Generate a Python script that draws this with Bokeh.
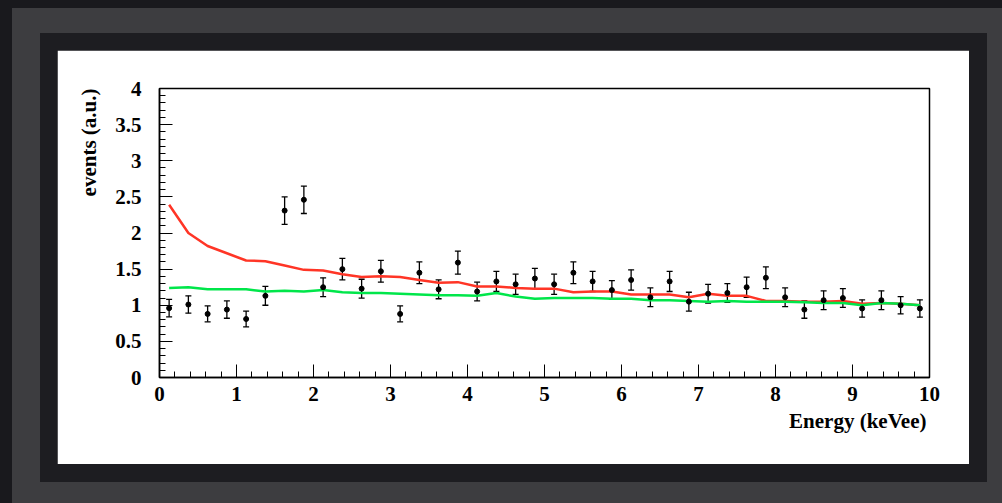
from bokeh.plotting import figure
from bokeh.layouts import column
from bokeh.models import (ColumnDataSource, FixedTicker, PrintfTickFormatter,
                          Title, Whisker, TeeHead)
from bokeh.embed import file_html
from bokeh.resources import INLINE

# ---- data ----
energy = [0.125, 0.375, 0.625, 0.875, 1.125, 1.375, 1.625, 1.875, 2.125, 2.375,
          2.625, 2.875, 3.125, 3.375, 3.625, 3.875, 4.125, 4.375, 4.625, 4.875,
          5.125, 5.375, 5.625, 5.875, 6.125, 6.375, 6.625, 6.875, 7.125, 7.375,
          7.625, 7.875, 8.125, 8.375, 8.625, 8.875, 9.125, 9.375, 9.625, 9.875]
events = [0.96, 1.01, 0.88, 0.94, 0.81, 1.13, 2.31, 2.46, 1.25, 1.50,
          1.23, 1.47, 0.88, 1.45, 1.22, 1.59, 1.19, 1.33, 1.29, 1.37,
          1.29, 1.45, 1.33, 1.21, 1.35, 1.11, 1.33, 1.05, 1.16, 1.17,
          1.25, 1.38, 1.11, 0.94, 1.07, 1.10, 0.955, 1.07, 1.00, 0.955]
errors = [0.12, 0.12, 0.11, 0.12, 0.11, 0.13, 0.19, 0.19, 0.13, 0.15,
          0.13, 0.15, 0.11, 0.15, 0.13, 0.16, 0.13, 0.14, 0.14, 0.14,
          0.14, 0.15, 0.14, 0.13, 0.14, 0.13, 0.14, 0.13, 0.13, 0.13,
          0.14, 0.15, 0.13, 0.12, 0.13, 0.13, 0.12, 0.13, 0.12, 0.12]
red_model = [2.39, 2.00, 1.82, 1.72, 1.62, 1.61, 1.55, 1.49, 1.48, 1.43,
             1.39, 1.40, 1.39, 1.35, 1.31, 1.32, 1.26, 1.26, 1.24, 1.23,
             1.23, 1.18, 1.19, 1.19, 1.15, 1.15, 1.15, 1.11, 1.16, 1.13,
             1.13, 1.06, 1.06, 1.05, 1.05, 1.06, 1.02, 1.03, 1.02, 1.00]
green_model = [1.24, 1.25, 1.22, 1.22, 1.22, 1.19, 1.20, 1.19, 1.21, 1.18,
               1.17, 1.17, 1.16, 1.15, 1.14, 1.14, 1.13, 1.17, 1.12, 1.09,
               1.10, 1.10, 1.10, 1.09, 1.09, 1.07, 1.07, 1.06, 1.05, 1.06,
               1.05, 1.05, 1.05, 1.04, 1.03, 1.03, 1.00, 1.03, 1.02, 1.00]
x_ticks = [0, 1, 2, 3, 4, 5, 6, 7, 8, 9, 10]
y_ticks = [0, 0.5, 1, 1.5, 2, 2.5, 3, 3.5, 4]
x_label = "Energy (keVee)"
y_label = "events (a.u.)"

FONT = "Liberation Serif"

src = ColumnDataSource(dict(
    x=energy, y=events,
    lo=[v - e for v, e in zip(events, errors)],
    hi=[v + e for v, e in zip(events, errors)],
))

p = figure(frame_width=770, frame_height=289, x_range=(0, 10), y_range=(0, 4),
           output_backend="svg", toolbar_location=None,
           min_border_left=102, min_border_right=40,
           min_border_top=38, min_border_bottom=87,
           background_fill_color="white", border_fill_color="white")
p.margin = (17, 18, 18, 17)
p.grid.visible = False
p.outline_line_color = "black"
p.outline_line_width = 1.5

x_minor = [i * 0.2 for i in range(51)]
y_minor = [i * 0.1 for i in range(41)]
p.xaxis.ticker = FixedTicker(ticks=x_ticks, minor_ticks=x_minor)
p.yaxis.ticker = FixedTicker(ticks=y_ticks, minor_ticks=y_minor)
p.yaxis.formatter = PrintfTickFormatter(format="%g")
p.xaxis.formatter = PrintfTickFormatter(format="%g")
for ax in (p.xaxis[0], p.yaxis[0]):
    ax.major_tick_in = 13
    ax.major_tick_out = 0
    ax.minor_tick_in = 6
    ax.minor_tick_out = 0
    ax.axis_line_width = 1.5
    ax.axis_line_color = "black"
    ax.major_tick_line_color = "black"
    ax.minor_tick_line_color = "black"
    ax.major_label_text_font = FONT
    ax.major_label_text_font_style = "bold"
    ax.major_label_text_font_size = "21px"
    ax.major_label_text_color = "black"
p.xaxis.major_label_standoff = 9
p.yaxis.major_label_standoff = 18

p.line(energy, red_model, line_color="#ff3526", line_width=2.5)
p.line(energy, green_model, line_color="#00e64a", line_width=2.5)

p.add_layout(Whisker(source=src, base="x", lower="lo", upper="hi",
                     line_color="black", line_width=1.3,
                     lower_head=TeeHead(size=6, line_color="black", line_width=1.3),
                     upper_head=TeeHead(size=6, line_color="black", line_width=1.3)))
p.scatter("x", "y", source=src, size=5, color="black")

p.add_layout(Title(text=x_label, align="right", text_font=FONT,
                   text_font_style="bold", text_font_size="21px",
                   text_color="black", standoff=7, offset=3), "below")
p.add_layout(Title(text=y_label, align="right", text_font=FONT,
                   text_font_style="bold", text_font_size="21px",
                   text_color="black", standoff=23), "left")

panel = column(p, margin=(25, 0, 0, 28),
               styles={"background-color": "#1d1d21"})
gray = column(panel, width=990, height=495, margin=(8, 0, 0, 12),
              styles={"background-color": "#3d3d40"})
outer = column(gray, width=1002, height=503,
               styles={"background-color": "#19191d"})

open("out.html", "w").write(file_html(outer, INLINE))
